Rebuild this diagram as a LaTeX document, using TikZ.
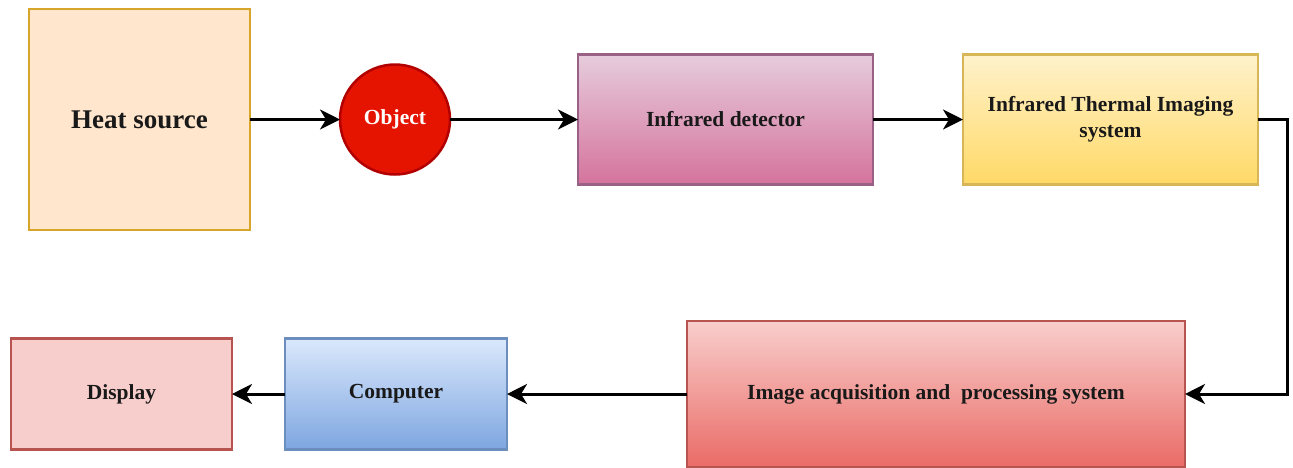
\documentclass[tikz,border=0pt]{standalone}
\usepackage{fontspec}
\setmainfont{Liberation Serif}
\usetikzlibrary{arrows.meta}
\definecolor{hsfill}{HTML}{FFE6CC}
\definecolor{hsdraw}{HTML}{D6A52A}
\definecolor{objfill}{HTML}{E51400}
\definecolor{objdraw}{HTML}{B20000}
\definecolor{detT}{HTML}{E6CCDC}
\definecolor{detB}{HTML}{D5739D}
\definecolor{detD}{HTML}{996185}
\definecolor{thT}{HTML}{FFF2CC}
\definecolor{thB}{HTML}{FFD966}
\definecolor{thD}{HTML}{D6B656}
\definecolor{imT}{HTML}{F8CECC}
\definecolor{imB}{HTML}{EA6B66}
\definecolor{imD}{HTML}{B85450}
\definecolor{coT}{HTML}{DAE8FC}
\definecolor{coB}{HTML}{7EA6E0}
\definecolor{coD}{HTML}{6C8EBF}
\definecolor{diF}{HTML}{F8CECC}
\definecolor{diD}{HTML}{B85450}
\begin{document}
\begin{tikzpicture}[x=1pt,y=-1pt,
  boxstyle/.style={draw, line width=2.5pt, inner sep=0pt, outer sep=0pt, align=center,
     font=\fontsize{21.5}{26}\selectfont\bfseries, text=black!90},
  flow/.style={line width=3pt, -{Stealth[length=20pt,width=20pt,inset=6pt]}}]
\useasboundingbox (0,0) rectangle (1293,467);
\node[boxstyle, fill=hsfill, draw=hsdraw, minimum width=221pt, minimum height=221pt,
  font=\fontsize{27}{32}\selectfont\bfseries] (heat) at (139.5,119.5) {Heat source};
\node[circle, draw=objdraw, fill=objfill, line width=2.5pt, minimum size=110pt, inner sep=0pt, outer sep=0pt,
  text=white, font=\fontsize{21.5}{26}\selectfont\bfseries] (obj) at (395,119.5) {Object};
\node[boxstyle, draw=detD, top color=detT, bottom color=detB, minimum width=295pt, minimum height=130pt] (det) at (725.5,119.5) {Infrared detector};
\node[boxstyle, draw=thD, top color=thT, bottom color=thB, minimum width=295pt, minimum height=130pt] (therm) at (1110.5,119.5) {Infrared Thermal Imaging\\system};
\node[boxstyle, draw=imD, top color=imT, bottom color=imB, minimum width=498pt, minimum height=146pt] (img) at (936,394) {Image acquisition and\ \ processing system};
\node[boxstyle, draw=coD, top color=coT, bottom color=coB, minimum width=222pt, minimum height=111pt] (comp) at (396,394) {Computer};
\node[boxstyle, draw=diD, fill=diF, minimum width=221pt, minimum height=111pt] (disp) at (121.5,394) {Display};
\coordinate (bend) at (1287,119.5);
\draw[flow] (heat.east) -- (obj.west);
\draw[flow] (obj.east) -- (det.west);
\draw[flow] (det.east) -- (therm.west);
\draw[flow] (therm.east) -- (bend) |- (img.east);
\draw[flow] (img.west) -- (comp.east);
\draw[flow] (comp.west) -- (disp.east);
\end{tikzpicture}
\end{document}
